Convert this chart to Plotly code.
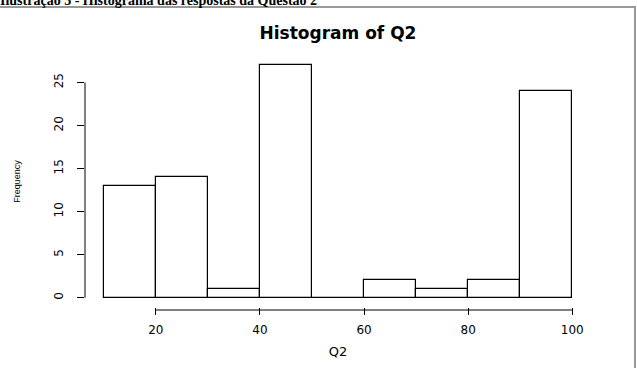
import plotly.graph_objects as go

bin_starts = [10, 20, 30, 40, 50, 60, 70, 80, 90]
counts = [13, 14, 1, 27, 0, 2, 1, 2, 24]
bin_width = 10
x_ticks = [20, 40, 60, 80, 100]
y_ticks = [0, 5, 10, 15, 20, 25]
caption = "Ilustração 5 - Histograma das respostas da Questão 2"

W, H = 637, 368
ml, mr, mt, mb = 85, 46, 56, 61
pw, ph = W - ml - mr, H - mt - mb

def px_x(p):
    return (p - ml) / pw

def px_y(p):
    return (H - mb - p) / ph

centers = [s + bin_width / 2 for s in bin_starts]

fig = go.Figure()
fig.add_trace(go.Bar(
    x=centers, y=counts, width=[bin_width] * len(counts),
    marker=dict(color="white", line=dict(color="black", width=1.2)),
    hoverinfo="skip",
))

font_family = "DejaVu Sans, Liberation Sans, Arial, sans-serif"

fig.update_layout(
    width=W, height=H,
    margin=dict(l=ml, r=mr, t=mt, b=mb, autoexpand=False),
    paper_bgcolor="white", plot_bgcolor="white",
    showlegend=False,
    bargap=0,
    xaxis=dict(range=[6.4, 103.6], tickvals=x_ticks, ticktext=[str(v) for v in x_ticks],
               ticks="outside", ticklen=7, tickcolor="black", tickwidth=1,
               ticklabelstandoff=5, automargin=False,
               showgrid=False, zeroline=False, showline=False,
               tickfont=dict(family=font_family, size=12, color="black"),
               title=dict(text="Q2", font=dict(family=font_family, size=13, color="black"), standoff=10)),
    yaxis=dict(range=[-1.08, 28.08], tickvals=y_ticks, ticktext=[str(v) for v in y_ticks],
               ticks="outside", ticklen=7, tickcolor="black", tickwidth=1, tickangle=-90,
               ticklabelstandoff=9, automargin=False,
               showgrid=False, zeroline=False, showline=False,
               tickfont=dict(family=font_family, size=12, color="black"),
               title=dict(text="Frequency", font=dict(family="Liberation Sans, Arial, sans-serif", size=9, color="black"), standoff=30)),
    title=dict(text="<b>Histogram of Q2</b>", xref="container", x=338 / W, xanchor="center",
               y=1 - 33 / H, yanchor="middle",
               font=dict(family=font_family, size=17, color="black")),
)

# axis lines spanning tick range (R style)
fig.add_shape(type="line", xref="x", yref="paper", x0=x_ticks[0], x1=x_ticks[-1],
              y0=px_y(310), y1=px_y(310), line=dict(color="black", width=1))
fig.add_shape(type="line", xref="paper", yref="y", x0=px_x(85), x1=px_x(85),
              y0=y_ticks[0], y1=y_ticks[-1], line=dict(color="black", width=1))

# page frame lines
fig.add_shape(type="line", xref="paper", yref="paper", x0=px_x(0), x1=px_x(636),
              y0=px_y(7), y1=px_y(7), line=dict(color="#999999", width=2))
fig.add_shape(type="line", xref="paper", yref="paper", x0=px_x(635), x1=px_x(635),
              y0=px_y(7), y1=px_y(368), line=dict(color="#999999", width=2))

fig.add_annotation(text="<b>" + caption + "</b>", xref="paper", yref="paper",
                   x=px_x(-2), y=px_y(10), xanchor="left", yanchor="bottom",
                   showarrow=False,
                   font=dict(family="Liberation Serif, Times New Roman, serif", size=14, color="black"))

fig.write_html("out.html")
